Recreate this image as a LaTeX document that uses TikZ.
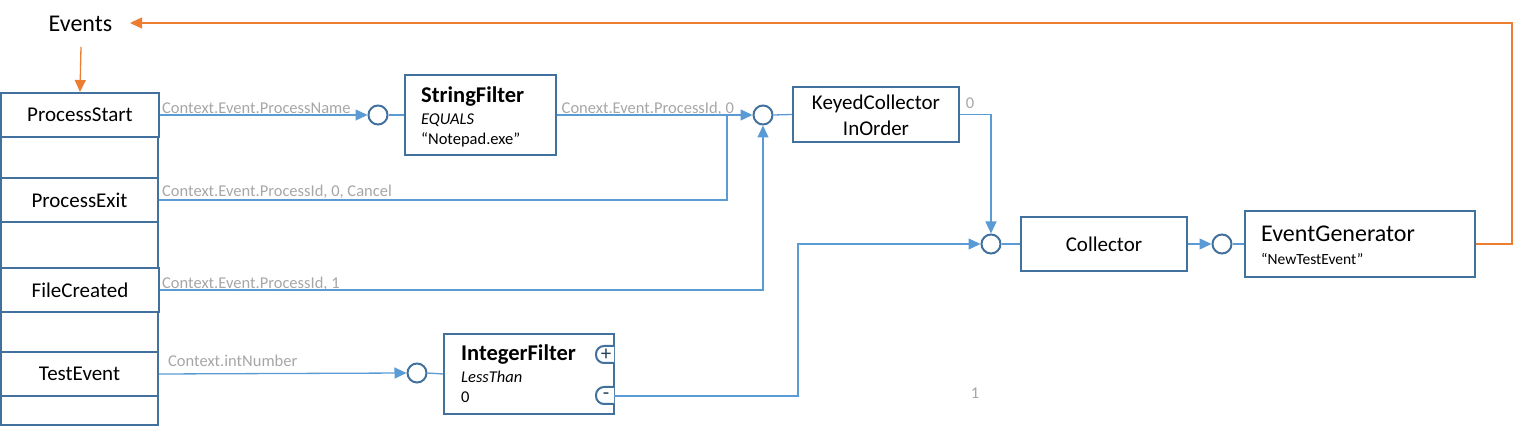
\documentclass[tikz,border=0pt]{standalone}
\usepackage{fontspec}
\setmainfont{Carlito}
\usetikzlibrary{arrows.meta}
\definecolor{boxblue}{HTML}{41719C}
\definecolor{lineblue}{HTML}{5B9BD5}
\definecolor{lblgray}{HTML}{A6A6A6}
\definecolor{evorange}{HTML}{ED7D31}
\newcommand{\myfs}[1]{\fontsize{#1}{#1}\selectfont}
\begin{document}
\begin{tikzpicture}[x=1pt,y=-1pt,
  box/.style={draw=boxblue,line width=2pt,rectangle,inner sep=0pt,font=\myfs{21}},
  port/.style={draw=boxblue,line width=2pt,circle,fill=white,minimum size=19pt,inner sep=0pt},
  conn/.style={draw=lineblue,line width=1.3pt},
  arr/.style={conn,-{Triangle[length=12pt,width=11pt]}},
  orng/.style={draw=evorange,line width=1.3pt},
  orngarr/.style={orng,-{Triangle[length=12pt,width=11pt]}},
  lbl/.style={text=lblgray,font=\myfs{16.5},inner sep=0pt},
  btitle/.style={font=\myfs{22.5}\bfseries,inner sep=0pt,anchor=base west},
  bsub/.style={font=\myfs{16.5},inner sep=0pt,anchor=base west},
  tab/.style={draw=boxblue,line width=2pt,rounded corners=8pt,fill=white}]
\useasboundingbox (0,0) rectangle (1513,427);

% Events title
\node[font=\myfs{24},inner sep=0pt,anchor=base] (ev) at (80.5,31.7) {Events};
\coordinate (evR) at (130,23);
\coordinate (evB) at (81,47);

% left column
\node[box,minimum width=158pt,minimum height=44pt] (ps) at (80,115) {ProcessStart};
\node[box,minimum width=157pt,minimum height=41pt] (e1) at (79.5,157.5) {};
\node[box,minimum width=157pt,minimum height=44pt] (pe) at (79.5,200) {ProcessExit};
\node[box,minimum width=157pt,minimum height=46pt] (e2) at (79.5,245) {};
\node[box,minimum width=158pt,minimum height=44pt] (fc) at (80,290) {FileCreated};
\node[box,minimum width=157pt,minimum height=40pt] (e3) at (79.5,332) {};
\node[box,minimum width=157pt,minimum height=44pt] (te) at (79.5,374) {TestEvent};
\node[box,minimum width=157pt,minimum height=29pt] (e4) at (79.5,410.5) {};

% ports
\node[port] (c1) at (378,115) {};
\node[port] (c2) at (763,115) {};
\node[port] (c3) at (991,244) {};
\node[port] (c4) at (1222,244) {};
\node[port] (c5) at (417,373) {};

% StringFilter
\node[box,minimum width=151pt,minimum height=80pt] (sf) at (480.5,115) {};
\node[btitle] (sft) at (421,103) {StringFilter};
\node[bsub] (sfa) at (421,125) {\itshape EQUALS};
\node[bsub] (sfb) at (421,145) {“Notepad.exe”};

% KeyedCollector
\node[box,minimum width=166pt,minimum height=55pt] (kc) at (876,114.5) {};
\node[font=\myfs{21},inner sep=0pt,anchor=base] (kct1) at (876,110) {KeyedCollector};
\node[font=\myfs{21},inner sep=0pt,anchor=base] (kct2) at (876,136) {InOrder};

% Collector
\node[box,minimum width=166pt,minimum height=54pt] (co) at (1104,244) {Collector};

% EventGenerator
\node[box,minimum width=230pt,minimum height=66pt] (eg) at (1360,244) {};
\node[font=\myfs{24},inner sep=0pt,anchor=base west] (egt) at (1261,241.7) {EventGenerator};
\node[font=\myfs{15.5},inner sep=0pt,anchor=base west] (egs) at (1261,265) {“NewTestEvent”};

% IntegerFilter
\node[box,minimum width=170pt,minimum height=80pt] (if) at (529,374) {};
\node[btitle] (ift) at (461,360.5) {IntegerFilter};
\node[bsub] (ifa) at (461,382.7) {\itshape LessThan};
\node[bsub] (ifb) at (461,403) {0};
\draw[tab] (614,346) -- (596,346) -- (596,363) -- (614,363);
\draw[tab] (614,387) -- (596,387) -- (596,404) -- (614,404);
\node[font=\myfs{21},text=boxblue!60!black,inner sep=0pt] (pls) at (606,355) {+};
\node[font=\myfs{21},text=boxblue!60!black,inner sep=0pt] (mns) at (606,396) {-};
\coordinate (ifm) at (614,396);

% junction coordinates
\coordinate (j1) at (727,115);
\coordinate (k1) at (798,244);
\coordinate (oc1) at (1512,244);
\coordinate (oc2) at (1512,23);

% connectors
\draw[arr] (ps.east) -- (c1.west);
\draw[conn] (c1.east) -- (sf.west);
\draw[arr] (sf.east) -- (c2.west);
\draw[conn] (c2.east) -- (kc.west);
\draw[conn] (pe.east) -| (j1);
\draw[arr] (fc.east) -| (c2.south);
\draw[arr] (te.east) -- (c5.west);
\draw[conn] (c5.east) -- (if.west);
\draw[arr] (kc.east) -| (c3.north);
\draw[arr] (ifm) -| (k1) -- (c3.west);
\draw[conn] (c3.east) -- (co.west);
\draw[arr] (co.east) -- (c4.west);
\draw[conn] (c4.east) -- (eg.west);

% orange feedback
\draw[orngarr] (eg.east) -- (oc1) -- (oc2) -- (evR);
\draw[orngarr] (evB) -- (ps.north);

% labels
\node[lbl,anchor=base west] (l1) at (162,113.5) {Context.Event.ProcessName};
\node[lbl,anchor=base west] (l2) at (162,196.7) {Context.Event.ProcessId, 0, Cancel};
\node[lbl,anchor=base west] (l3) at (162,288.3) {Context.Event.ProcessId, 1};
\node[lbl,anchor=base west] (l4) at (168,366.7) {Context.intNumber};
\node[lbl,anchor=base west] (l5) at (561.5,113.3) {Conext.Event.ProcessId, 0};
\node[lbl] (l6) at (970,103) {0};
\node[lbl] (l7) at (975,393) {1};
\end{tikzpicture}
\end{document}
